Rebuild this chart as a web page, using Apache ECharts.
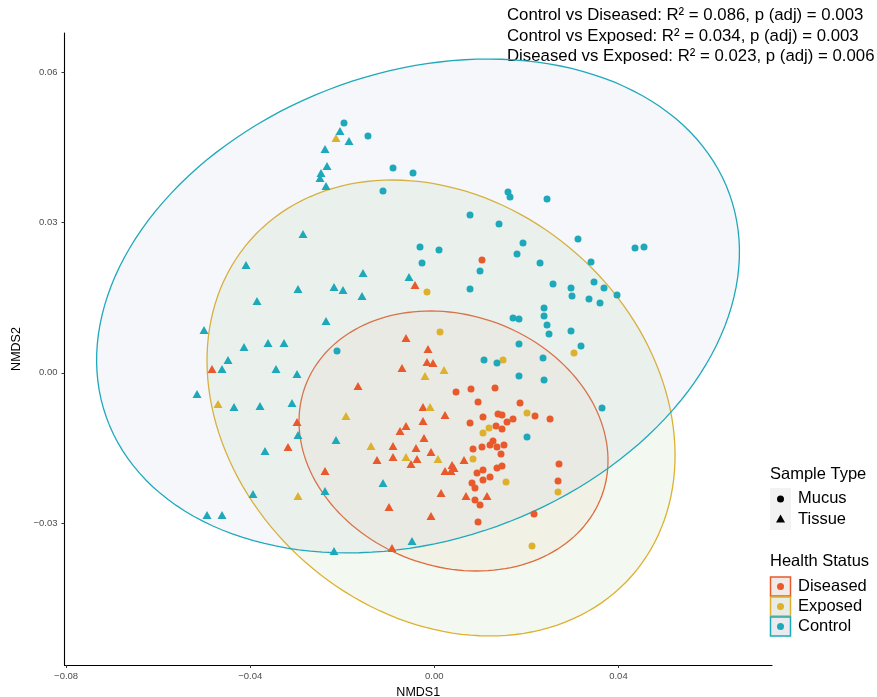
<!DOCTYPE html>
<html><head><meta charset="utf-8">
<script src="https://cdn.jsdelivr.net/npm/echarts@6/dist/echarts.min.js"></script>
<style>html,body{margin:0;padding:0;background:#fff;overflow:hidden}#c{width:877px;height:697px}</style>
</head><body><div id="c"></div>
<script>
const FONT = '"Liberation Sans", Arial, Helvetica, sans-serif';

const groups = ['Diseased', 'Exposed', 'Control'];
const groupColors = ['#E8592C', '#DDB02E', '#1EA9BA'];
const groupFills = ['rgba(245,190,170,0.14)', 'rgba(170,215,150,0.14)', 'rgba(160,180,215,0.11)'];
const sampleTypes = ['Mucus', 'Tissue'];

const xTicks = [-0.08, -0.04, 0, 0.04];
const yTicks = [-0.03, 0, 0.03, 0.06];

const statLines = [
  'Control vs Diseased: R\u00B2 = 0.086, p (adj) = 0.003',
  'Control vs Exposed: R\u00B2 = 0.034, p (adj) = 0.003',
  'Diseased vs Exposed: R\u00B2 = 0.023, p (adj) = 0.006'
];

// NMDS coordinates [NMDS1, NMDS2]
const controlMucus = [
  [-0.01962,0.04988],[-0.01441,0.04728],[-0.00897,0.04089],[-0.00463,0.03990],[-0.01115,0.03630],
  [0.01601,0.03610],[0.01645,0.03510],[0.02449,0.03470],[0.00776,0.03151],[0.01406,0.02971],
  [0.01927,0.02592],[0.01797,0.02372],[0.03122,0.02672],[-0.00311,0.02512],[0.00102,0.02452],
  [-0.00267,0.02192],[0.00993,0.02033],[0.02297,0.02192],[0.03405,0.02212],[0.04361,0.02492],
  [0.04556,0.02512],[0.00776,0.01673],[0.02579,0.01773],[0.02970,0.01693],[0.02992,0.01534],
  [0.03470,0.01813],[0.03361,0.01474],[0.03600,0.01394],[0.03687,0.01693],[0.03970,0.01554],
  [0.02384,0.01294],[0.02384,0.01134],[0.01710,0.01094],[0.01840,0.01074],[0.02449,0.00954],
  [0.02492,0.00775],[0.02970,0.00835],[0.01840,0.00575],[0.03187,0.00535],[0.02362,0.00296],
  [0.01080,0.00256],[0.01362,0.00196],[0.01840,-0.00064],[0.02384,-0.00144],[0.02014,-0.01282],
  [0.03644,-0.00703],[-0.02114,0.00435]
];
const controlTissue = [
  [-0.02049,0.04828],[-0.01853,0.04629],[-0.02375,0.04469],[-0.02331,0.04129],[-0.02462,0.03990],
  [-0.02484,0.03890],[-0.02353,0.03730],[-0.02853,0.02772],[-0.04091,0.02153],[-0.01549,0.01993],
  [-0.02962,0.01673],[-0.02179,0.01713],[-0.01984,0.01653],[-0.01571,0.01534],[-0.03852,0.01434],
  [-0.00550,0.01913],[-0.02353,0.01034],[-0.05004,0.00855],[-0.04135,0.00515],[-0.03613,0.00595],
  [-0.03266,0.00595],[-0.04482,0.00256],[-0.04613,0.00076],[-0.03440,0.00076],[-0.02983,-0.00024],
  [-0.05156,-0.00423],[-0.04352,-0.00683],[-0.03787,-0.00663],[-0.03092,-0.00603],[-0.02962,-0.01242],
  [-0.02136,-0.01342],[-0.03679,-0.01562],[-0.01115,-0.02200],[-0.02375,-0.02360],[-0.03939,-0.02420],
  [-0.04939,-0.02839],[-0.04613,-0.02839],[-0.00485,-0.03359],[-0.02179,-0.03558]
];
const exposedMucus = [
  [-0.00159,0.01613],[0.00124,0.00815],[0.01493,0.00256],[0.03035,0.00395],[0.02014,-0.00803],
  [0.01189,-0.01102],[0.01058,-0.01202],[0.00841,-0.01721],[0.01558,-0.02181],[0.02688,-0.02380],
  [0.02123,-0.03459]
];
const exposedTissue = [
  [-0.02136,0.04689],[-0.04700,-0.00623],[-0.01919,-0.00863],[-0.01375,-0.01462],[-0.00615,-0.01681],
  [-0.02962,-0.02460],[0.00211,0.00056],[-0.00202,-0.00064],[-0.00093,-0.00683],[0.00080,-0.01721]
];
const diseasedMucus = [
  [0.01036,0.02252],[0.00472,-0.00383],[0.00797,-0.00323],[0.01319,-0.00304],[0.00950,-0.00583],
  [0.01862,-0.00603],[0.01058,-0.00883],[0.01384,-0.00823],[0.01471,-0.00843],[0.01710,-0.00923],
  [0.01580,-0.00982],[0.02188,-0.00863],[0.02514,-0.00923],[0.00776,-0.01002],[0.01341,-0.01062],
  [0.01471,-0.01122],[0.01275,-0.01362],[0.01210,-0.01442],[0.01036,-0.01482],[0.01362,-0.01482],
  [0.01514,-0.01442],[0.00841,-0.01522],[0.01449,-0.01621],[0.01362,-0.01901],[0.01471,-0.01861],
  [0.00928,-0.02001],[0.01058,-0.01941],[0.01058,-0.02141],[0.01210,-0.02081],[0.00819,-0.02200],
  [0.00884,-0.02300],[0.02709,-0.01821],[0.02688,-0.02161],[0.00884,-0.02540],[0.00993,-0.02640],
  [0.00950,-0.02979],[0.02166,-0.02819]
];
const diseasedTissue = [
  [-0.04830,0.00076],[-0.00615,0.00695],[-0.00702,0.00096],[-0.01658,-0.00264],[-0.02983,-0.00982],
  [-0.00615,-0.01062],[-0.00745,-0.01162],[-0.03179,-0.01482],[-0.00897,-0.01462],[-0.00398,-0.01502],
  [-0.01245,-0.01741],[-0.00897,-0.01681],[-0.00376,-0.01721],[-0.00506,-0.01821],[-0.02375,-0.01961],
  [-0.00984,-0.02680],[-0.00919,-0.03498],[-0.00419,0.01753],[-0.00137,0.00475],[-0.00159,0.00216],
  [-0.00028,0.00196],[-0.00246,-0.00683],[0.00232,-0.00843],[-0.00246,-0.00962],[-0.00224,-0.01302],
  [-0.00072,-0.01581],[0.00645,-0.01741],[0.00385,-0.01841],[0.00428,-0.01901],[0.00232,-0.01961],
  [0.00363,-0.01961],[0.00146,-0.02400],[0.00689,-0.02460],[0.01145,-0.02460],[-0.00072,-0.02860]
];

// 95% ellipses: center and two semi-axis vectors (data units), order Diseased, Exposed, Control
const ellipseCenters = [[0.00417,-0.01362],[0.00146,-0.00703],[-0.00354,0.01334]];
const ellipseAxisA = [[0.03220,-0.01098],[0.04141,-0.03355],[0.06770,0.02228]];
const ellipseAxisB = [[0.00949,0.02352],[0.02951,0.03077],[-0.01714,0.04399]];

const pointSets = [
  [diseasedMucus, 0, 'circle'], [diseasedTissue, 0, 'triangle'],
  [exposedMucus, 1, 'circle'], [exposedTissue, 1, 'triangle'],
  [controlMucus, 2, 'circle'], [controlTissue, 2, 'triangle']
];

const fmt = v => (v < 0 ? '\u2212' : '') + Math.abs(v).toFixed(2);

const chart = echarts.init(document.getElementById('c'), null, {renderer: 'canvas', width: 877, height: 697});

const series = [{
  type: 'custom',
  silent: true,
  z: 1,
  data: ellipseCenters.map((c, i) => [c[0], c[1], i]),
  renderItem: function (params, api) {
    const i = api.value(2);
    const c = ellipseCenters[i], a = ellipseAxisA[i], b = ellipseAxisB[i];
    const pts = [];
    const N = 160;
    for (let k = 0; k < N; k++) {
      const t = 2 * Math.PI * k / N;
      const ct = Math.cos(t), st = Math.sin(t);
      pts.push(api.coord([c[0] + a[0] * ct + b[0] * st, c[1] + a[1] * ct + b[1] * st]));
    }
    return {
      type: 'polygon',
      shape: {points: pts},
      style: {fill: groupFills[i], stroke: groupColors[i], lineWidth: 1.3}
    };
  }
}];

pointSets.forEach(([data, gi, sym]) => {
  series.push({
    type: 'scatter',
    z: 3,
    data: data,
    symbol: sym,
    symbolSize: sym === 'circle' ? 7 : [9, 8],
    itemStyle: {color: groupColors[gi], opacity: 1},
    silent: true
  });
});

const graphics = [];
statLines.forEach((t, i) => {
  graphics.push({type: 'text', left: 507, top: 7 + i * 20.5,
    style: {text: t, font: '16.8px ' + FONT, fill: '#000'}});
});
// Legend: Sample Type
graphics.push({type: 'text', left: 770, top: 466, style: {text: 'Sample Type', font: '16.5px ' + FONT, fill: '#000'}});
graphics.push({type: 'rect', shape: {x: 770, y: 488, width: 21, height: 42}, style: {fill: '#F2F2F2'}});
graphics.push({type: 'circle', shape: {cx: 780.5, cy: 499, r: 3.5}, style: {fill: '#000'}});
graphics.push({type: 'polygon', shape: {points: [[780.5, 514.5], [785, 522.5], [776, 522.5]]}, style: {fill: '#000'}});
sampleTypes.forEach((t, i) => {
  graphics.push({type: 'text', left: 798, top: 490 + i * 20.5, style: {text: t, font: '16.5px ' + FONT, fill: '#000'}});
});
// Legend: Health Status
graphics.push({type: 'text', left: 770, top: 553, style: {text: 'Health Status', font: '16.5px ' + FONT, fill: '#000'}});
groups.forEach((g, i) => {
  const y0 = 577 + i * 20;
  graphics.push({type: 'rect', shape: {x: 770.5, y: y0, width: 20, height: 19}, style: {fill: '#F2F2F2', stroke: 'none'}});
  graphics.push({type: 'rect', shape: {x: 770.5, y: y0, width: 20, height: 19}, style: {fill: groupFills[i], stroke: groupColors[i], lineWidth: 1.5}});
  graphics.push({type: 'circle', shape: {cx: 780.5, cy: y0 + 9.5, r: 3.5}, style: {fill: groupColors[i]}});
  graphics.push({type: 'text', left: 798, top: y0 + 0.5, style: {text: g, font: '16.5px ' + FONT, fill: '#000'}});
});

chart.setOption({
  animation: false,
  backgroundColor: '#fff',
  textStyle: {fontFamily: FONT},
  grid: {left: 64.5, right: 105, top: 33, bottom: 32, containLabel: false, outerBoundsMode: 'none'},
  xAxis: {
    type: 'value', min: -0.08035, max: 0.07337,
    name: 'NMDS1', nameLocation: 'middle', nameGap: 18,
    nameTextStyle: {fontSize: 12.5, color: '#000', fontFamily: FONT},
    axisLine: {show: true, onZero: false, lineStyle: {color: '#000', width: 1.1}},
    axisTick: {show: true, customValues: xTicks, length: 3, lineStyle: {color: '#333'}},
    axisLabel: {customValues: xTicks, formatter: fmt, fontSize: 9.5, color: '#4D4D4D', margin: 6, fontFamily: FONT},
    splitLine: {show: false}
  },
  yAxis: {
    type: 'value', min: -0.05835, max: 0.06785,
    name: 'NMDS2', nameLocation: 'middle', nameGap: 38, nameRotate: 90,
    nameTextStyle: {fontSize: 12.5, color: '#000', fontFamily: FONT},
    axisLine: {show: true, onZero: false, lineStyle: {color: '#000', width: 1.1}},
    axisTick: {show: true, customValues: yTicks, length: 3, lineStyle: {color: '#333'}},
    axisLabel: {customValues: yTicks, formatter: fmt, fontSize: 9.5, color: '#4D4D4D', margin: 7, fontFamily: FONT},
    splitLine: {show: false}
  },
  graphic: graphics,
  series: series
});
</script></body></html>
